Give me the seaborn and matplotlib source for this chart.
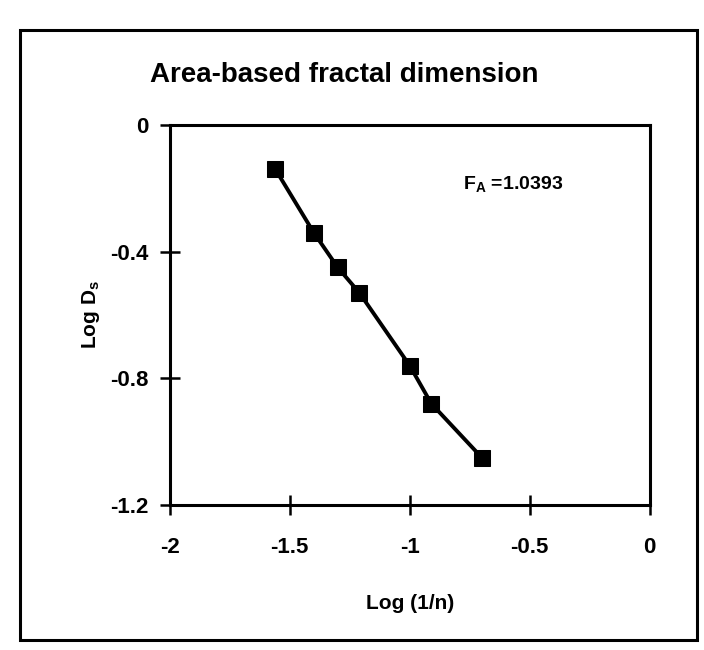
import matplotlib
matplotlib.use("Agg")
import matplotlib.pyplot as plt
from matplotlib.patches import Rectangle
import seaborn as sns
import pandas as pd

# Data
log_inv_n = [-1.56, -1.40, -1.30, -1.21, -1.00, -0.91, -0.70]
log_ds = [-0.14, -0.34, -0.45, -0.53, -0.76, -0.88, -1.05]
x_ticks = [-2, -1.5, -1, -0.5, 0]
y_ticks = [0, -0.4, -0.8, -1.2]
title = "Area-based fractal dimension"
annotation = r"F$_\mathbf{A}$ =1.0393"

sns.set_theme(style="white")
plt.rcParams["font.family"] = ["Liberation Sans", "DejaVu Sans"]
plt.rcParams["mathtext.fontset"] = "custom"
plt.rcParams["mathtext.rm"] = "Liberation Sans"
plt.rcParams["mathtext.bf"] = "Liberation Sans:bold"

df = pd.DataFrame({"x": log_inv_n, "y": log_ds})

fig = plt.figure(figsize=(7.04, 6.5), dpi=100)
ax = fig.add_axes([0.241, 0.223, 0.682, 0.585])

sns.lineplot(data=df, x="x", y="y", ax=ax, sort=False, color="black",
             marker="s", markersize=11, markeredgecolor="black",
             linewidth=2.8)

ax.set_xlim(-2, 0)
ax.set_ylim(-1.2, 0)
ax.set_xticks(x_ticks)
ax.set_xticklabels([f"{t:g}" for t in x_ticks])
ax.set_yticks(y_ticks)
ax.set_yticklabels([f"{t:g}" for t in y_ticks])

for s in ax.spines.values():
    s.set_visible(True)
    s.set_color("black")
    s.set_linewidth(2.2)

ax.tick_params(axis="both", which="major", bottom=True, left=True,
               direction="inout", length=14, width=1.8,
               color="black", labelcolor="black", labelsize=16)
ax.tick_params(axis="x", pad=16)
ax.tick_params(axis="y", pad=8)
for lab in ax.get_xticklabels() + ax.get_yticklabels():
    lab.set_fontweight("bold")

ax.set_xlabel("Log (1/n)", fontsize=15, fontweight="bold", color="black",
              labelpad=26)
ax.set_ylabel(r"Log D$_\mathbf{s}$", fontsize=15, fontweight="bold",
              color="black", labelpad=6)

ax.text(-0.78, -0.19, annotation, fontsize=14, fontweight="bold",
        va="center", ha="left", color="black")

fig.text(0.213, 0.885, title, fontsize=20, fontweight="bold",
         ha="left", va="center", color="black")

fig.patches.append(Rectangle((0.028, 0.016), 0.962, 0.938,
                             transform=fig.transFigure, fill=False,
                             edgecolor="black", linewidth=2.2))

fig.savefig("out.png", dpi=100)
